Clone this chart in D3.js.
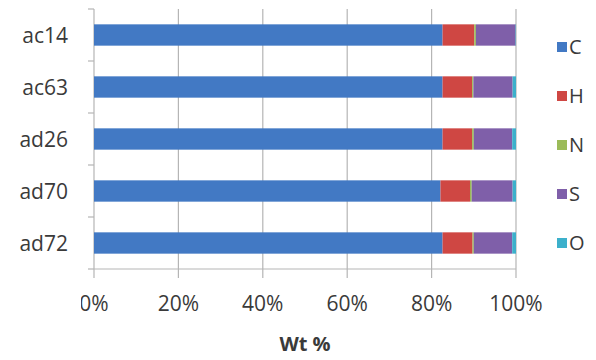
<!DOCTYPE html>
<html>
<head>
<meta charset="utf-8">
<script src="https://cdn.jsdelivr.net/npm/d3@7"></script>
<style>
  body { margin: 0; background: #fff; }
  text { font-family: "Open Sans", sans-serif; fill: #3a3a3a; }
</style>
</head>
<body>
<div id="chart"></div>
<script>
let width = 596;
let height = 360;

// datos
const samples = ['ac14', 'ac63', 'ad26', 'ad70', 'ad72'];
const elements = ['C', 'H', 'N', 'S', 'O'];
const valC = [82.6, 82.6, 82.6, 82.1, 82.6];
const valH = [7.5, 7.0, 7.0, 7.0, 7.1];
const valN = [0.4, 0.3, 0.4, 0.4, 0.3];
const valS = [9.4, 9.3, 9.1, 9.7, 9.1];
const valO = [0.1, 0.8, 0.9, 0.8, 0.9];
const xTicks = [0, 0.2, 0.4, 0.6, 0.8, 1];
const colors = ['#4279c4', '#cf4743', '#9bbb59', '#7f5fa9', '#3cb0cb'];

let rows = samples.map(function(s, i) {
    return { sample: s, C: valC[i], H: valH[i], N: valN[i], S: valS[i], O: valO[i] };
});

let svg = d3.select('#chart').append('svg')
    .attr('width', width)
    .attr('height', height);

const margin = { top: 9, left: 94, right: 80, bottom: 91 };
const plotW = width - margin.left - margin.right;   // 422
const plotH = height - margin.top - margin.bottom;

let x = d3.scaleLinear().domain([0, 100]).range([margin.left, margin.left + plotW]);
let y = d3.scaleBand().domain(samples).range([margin.top, margin.top + plotH]).paddingInner(0.59).paddingOuter(0.295);
let yAxisBand = d3.scaleBand().domain(samples).range([margin.top, margin.top + plotH]);
let color = d3.scaleOrdinal().domain(elements).range(colors);

// recorte de la primera etiqueta, como en el original
svg.append('clipPath')
    .attr('id', 'clipTicks')
    .append('rect')
    .attr('x', 81).attr('y', 0)
    .attr('width', width).attr('height', height);

// rejilla vertical
svg.append('g')
    .selectAll('line')
    .data(xTicks)
    .enter()
    .append('line')
    .attr('x1', d => x(d * 100))
    .attr('x2', d => x(d * 100))
    .attr('y1', margin.top)
    .attr('y2', margin.top + plotH + 9)
    .attr('stroke', '#b5b5b5')
    .attr('stroke-width', 1.2);

// eje inferior
svg.append('line')
    .attr('x1', x(0)).attr('x2', x(100))
    .attr('y1', margin.top + plotH).attr('y2', margin.top + plotH)
    .attr('stroke', '#b5b5b5').attr('stroke-width', 1.2);

// marcas eje izquierdo
let yTickPos = samples.map(s => yAxisBand(s)).concat([margin.top + plotH]);
svg.append('g')
    .selectAll('line')
    .data(yTickPos)
    .enter()
    .append('line')
    .attr('x1', x(0) - 6).attr('x2', x(0))
    .attr('y1', d => d).attr('y2', d => d)
    .attr('stroke', '#b5b5b5').attr('stroke-width', 1.2);

// barras apiladas
let stack = d3.stack().keys(elements);
let series = stack(rows);

svg.append('g')
    .selectAll('g')
    .data(series)
    .enter()
    .append('g')
    .attr('fill', d => color(d.key))
    .selectAll('rect')
    .data(d => d)
    .enter()
    .append('rect')
    .attr('x', d => x(d[0]))
    .attr('width', d => x(d[1]) - x(d[0]))
    .attr('y', d => y(d.data.sample))
    .attr('height', y.bandwidth());

// etiquetas categorias
svg.append('g')
    .selectAll('text')
    .data(samples)
    .enter()
    .append('text')
    .attr('x', 68)
    .attr('y', d => y(d) + y.bandwidth() / 2)
    .attr('dy', '0.36em')
    .attr('text-anchor', 'end')
    .style('font-size', '21px')
    .text(d => d);

// etiquetas eje x
svg.append('g')
    .attr('clip-path', 'url(#clipTicks)')
    .selectAll('text')
    .data(xTicks)
    .enter()
    .append('text')
    .attr('x', d => x(d * 100))
    .attr('y', 311)
    .attr('text-anchor', 'middle')
    .style('font-size', '21px')
    .text(d3.format('.0%'));

svg.append('text')
    .attr('x', 305)
    .attr('y', 351)
    .attr('text-anchor', 'middle')
    .style('font-size', '20px')
    .style('font-weight', 'bold')
    .text('Wt %');

// leyenda
let legend = svg.append('g')
    .selectAll('g')
    .data(elements)
    .enter()
    .append('g')
    .attr('transform', (d, i) => 'translate(557,' + (47 + i * 49) + ')');

legend.append('rect')
    .attr('x', 0).attr('y', -5)
    .attr('width', 10).attr('height', 10)
    .attr('fill', d => color(d));

legend.append('text')
    .attr('x', 12)
    .attr('dy', '0.36em')
    .style('font-size', '20px')
    .text(d => d);
</script>
</body>
</html>
